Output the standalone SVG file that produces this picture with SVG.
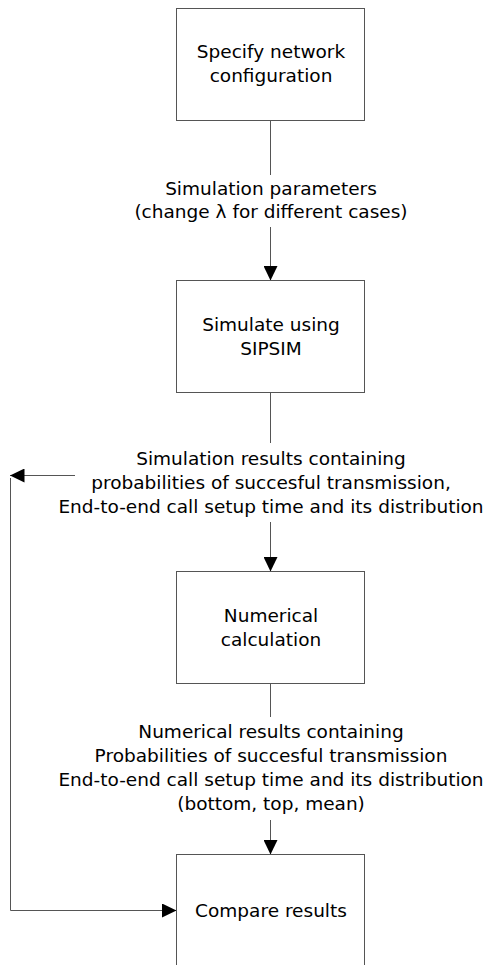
<svg xmlns="http://www.w3.org/2000/svg" width="489" height="965" viewBox="0 0 489 965">
<style>
.box{fill:#fff;stroke:#555;stroke-width:1}
.ln{fill:none;stroke:#555;stroke-width:1}
text{font-family:"DejaVu Sans",sans-serif;font-size:18.5px;fill:#000;text-anchor:middle}
</style>
<defs>
<marker id="ah" markerUnits="userSpaceOnUse" markerWidth="15" markerHeight="14" refX="14.5" refY="7" orient="auto">
<path d="M0,0 L14.5,7 L0,14 z" fill="#000"/>
</marker>
</defs>
<rect width="489" height="965" fill="#fff"/>
<g id="connectors">
<line class="ln" x1="270.5" y1="120.5" x2="270.5" y2="175"/>
<line class="ln" x1="270.5" y1="227" x2="270.5" y2="280.5" marker-end="url(#ah)"/>
<line class="ln" x1="270.5" y1="392.5" x2="270.5" y2="443"/>
<line class="ln" x1="270.5" y1="522" x2="270.5" y2="571.5" marker-end="url(#ah)"/>
<line class="ln" x1="270.5" y1="683.5" x2="270.5" y2="717"/>
<line class="ln" x1="270.5" y1="820" x2="270.5" y2="854.5" marker-end="url(#ah)"/>
<line class="ln" x1="75" y1="475.5" x2="10" y2="475.5" marker-end="url(#ah)"/>
<polyline class="ln" points="10.5,478 10.5,910.5 176.5,910.5" marker-end="url(#ah)"/>
<g id="label-params">
<text x="271" y="195">Simulation parameters</text>
<text x="271" y="218">(change λ for different cases)</text>
</g>
<g id="label-sim-results">
<text x="271" y="465">Simulation results containing</text>
<text x="271" y="489">probabilities of succesful transmission,</text>
<text x="271" y="513">End-to-end call setup time and its distribution</text>
</g>
<g id="label-num-results">
<text x="271" y="738">Numerical results containing</text>
<text x="271" y="762">Probabilities of succesful transmission</text>
<text x="271" y="786">End-to-end call setup time and its distribution</text>
<text x="271" y="810">(bottom, top, mean)</text>
</g>
</g>
<g id="node-specify">
<rect class="box" x="176.5" y="8.5" width="188" height="112"/>
<text x="271" y="58">Specify network</text>
<text x="271" y="82">configuration</text>
</g>
<g id="node-simulate">
<rect class="box" x="176.5" y="280.5" width="188" height="112"/>
<text x="271" y="331">Simulate using</text>
<text x="271" y="355">SIPSIM</text>
</g>
<g id="node-numerical">
<rect class="box" x="176.5" y="571.5" width="188" height="112"/>
<text x="271" y="622">Numerical</text>
<text x="271" y="646">calculation</text>
</g>
<g id="node-compare">
<rect class="box" x="176.5" y="854.5" width="188" height="112"/>
<text x="271" y="917">Compare results</text>
</g>
</svg>
